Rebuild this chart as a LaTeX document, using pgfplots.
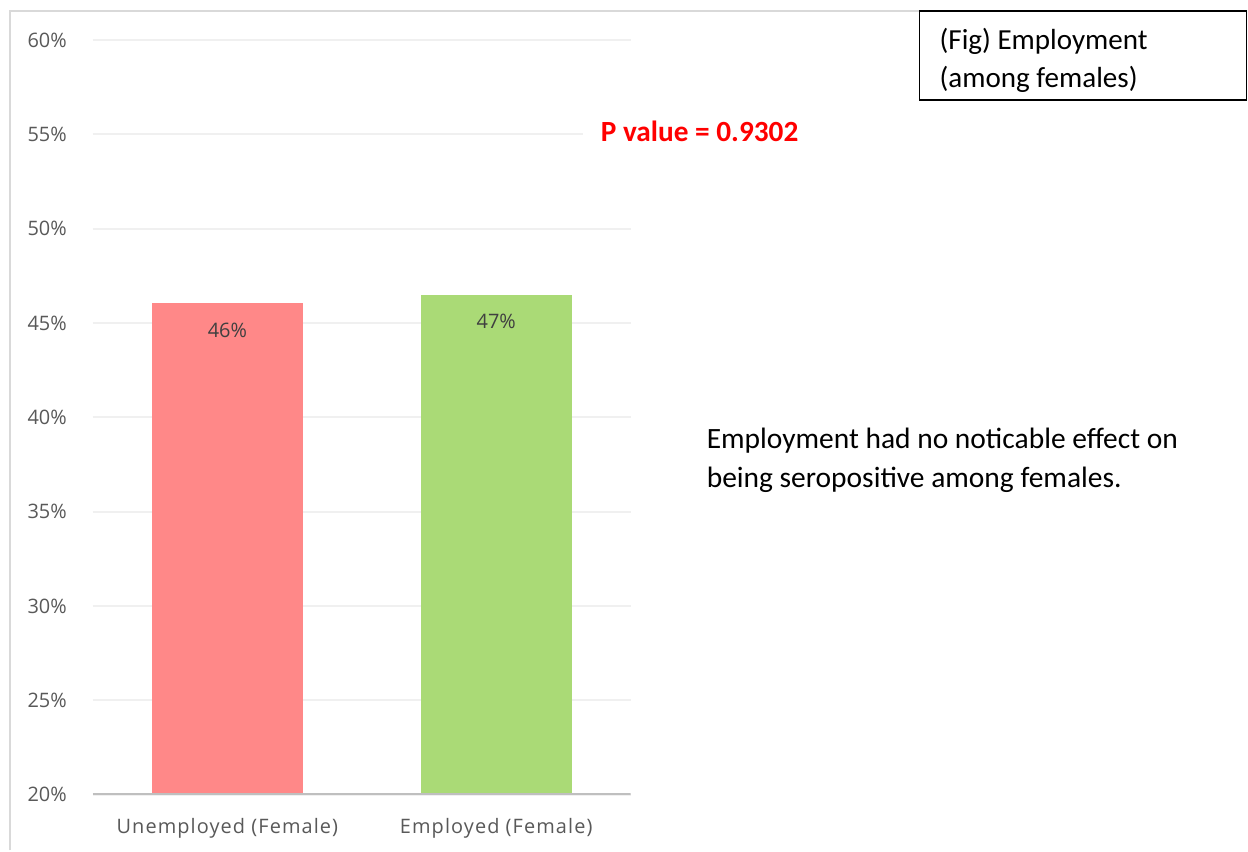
\documentclass[border=0pt]{standalone}
\usepackage{pgfplots}
\pgfplotsset{compat=1.18}
\usepackage{fontspec}
\setmainfont{Carlito}
\newfontfamily\osans{Open Sans}
\newfontfamily\osansls[LetterSpace=5.5]{Open Sans}
\definecolor{barred}{RGB}{255,136,136}
\definecolor{bargreen}{RGB}{170,218,118}
\definecolor{ticktxt}{RGB}{89,89,89}
\definecolor{lbltxt}{RGB}{64,64,64}
\definecolor{gridc}{RGB}{240,240,240}
\definecolor{axc}{RGB}{191,191,191}
\definecolor{framec}{RGB}{217,217,217}
\definecolor{pred}{RGB}{255,0,0}
\begin{document}
\begin{tikzpicture}[x=1bp,y=1bp]
\path[fill=white] (0,0) rectangle (1248,851);
\draw[framec, line width=1.5bp] (10,0) -- (10,840) -- (1248,840);
\begin{axis}[
  at={(93bp,56bp)}, anchor=south west,
  scale only axis, width=538bp, height=755bp,
  xmin=-0.5, xmax=1.5, ymin=20, ymax=60,
  axis line style={draw=none},
  ytick={20,25,30,35,40,45,50,55,60},
  yticklabels={20\%,25\%,30\%,35\%,40\%,45\%,50\%,55\%,60\%},
  ymajorgrids, grid style={gridc, line width=2bp},
  major tick length=0pt, tick style={draw=none},
  xtick={0,1},
  xticklabels={Unemployed (Female), Employed (Female)},
  yticklabel style={font=\osans\fontsize{20}{24}\selectfont, text=ticktxt, inner sep=0pt, xshift=-26bp},
  xticklabel style={font=\osansls\fontsize{20}{24}\selectfont, text=ticktxt, inner sep=0pt, yshift=-24bp},
  nodes near coords, point meta=explicit symbolic,
  every node near coord/.append style={anchor=center, yshift=-27bp, font=\osans\fontsize{20}{24}\selectfont, text=lbltxt},
]
\addplot[ybar, bar shift=0pt, bar width=151bp, fill=barred, draw=none] coordinates {(0,46.05) [46\%]};
\addplot[ybar, bar shift=0pt, bar width=151bp, fill=bargreen, draw=none] coordinates {(1,46.5) [47\%]};
\draw[axc, line width=3bp] (rel axis cs:0,0) -- (rel axis cs:1,0);
\end{axis}
\node[anchor=base west, fill=white, text=pred, font=\bfseries\fontsize{29.4}{35}\selectfont, inner xsep=0pt, inner ysep=4bp] at (601,709) {P value = 0.9302};
\fill[white] (583,705) rectangle (601,735);
\draw[black, line width=1.5bp, fill=white] (920,840) rectangle (1247.25,751);
\node[anchor=base west, inner sep=0pt, font=\fontsize{29.2}{35}\selectfont] at (940,801) {(Fig) Employment};
\node[anchor=base west, inner sep=0pt, font=\fontsize{29.2}{35}\selectfont] at (940,763) {(among females)};
\node[anchor=base west, inner sep=0pt, font=\fontsize{29.6}{35}\selectfont] at (707,402) {Employment had no noticable effect on};
\node[anchor=base west, inner sep=0pt, font=\fontsize{29.6}{35}\selectfont] at (707,363) {being seropositive among females.};
\end{tikzpicture}
\end{document}
